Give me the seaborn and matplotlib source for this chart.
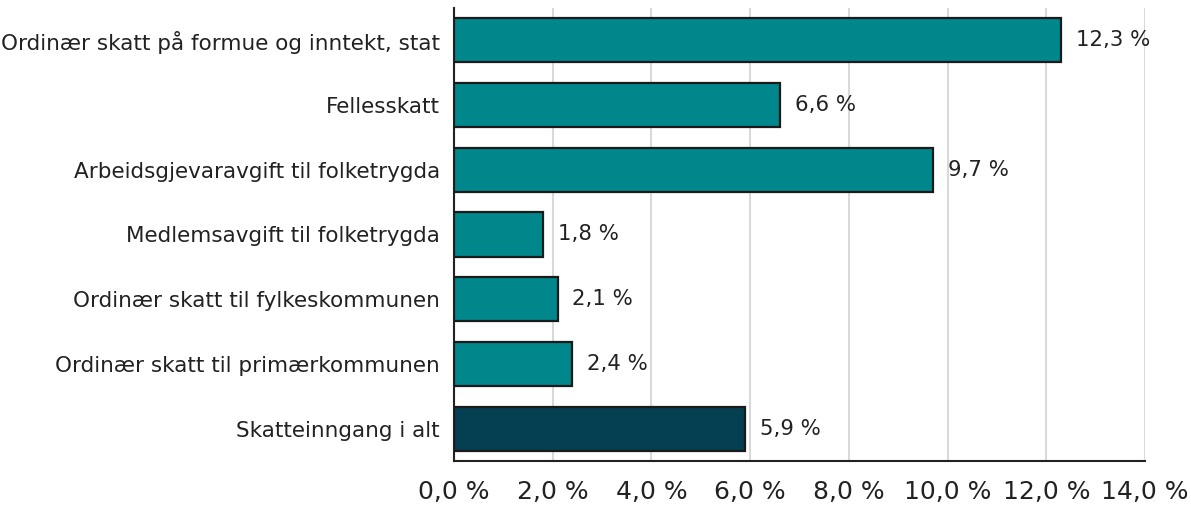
import matplotlib
matplotlib.use("Agg")
import matplotlib.pyplot as plt
import seaborn as sns
import pandas as pd

categories = [
    "Ordinær skatt på formue og inntekt, stat",
    "Fellesskatt",
    "Arbeidsgjevaravgift til folketrygda",
    "Medlemsavgift til folketrygda",
    "Ordinær skatt til fylkeskommunen",
    "Ordinær skatt til primærkommunen",
    "Skatteinngang i alt",
]
values = [12.3, 6.6, 9.7, 1.8, 2.1, 2.4, 5.9]
colors = ["#00878C"] * 6 + ["#043F52"]
xticks = [0, 2, 4, 6, 8, 10, 12, 14]

df = pd.DataFrame({"cat": categories, "val": values})

sns.set_theme(style="white")
plt.rcParams["font.family"] = ["DejaVu Sans"]

fig = plt.figure(figsize=(11.91, 5.09), dpi=100)
ax = fig.add_axes([454 / 1191, 1 - 461 / 509, (1145 - 454) / 1191, (461 - 8) / 509])

sns.barplot(data=df, y="cat", x="val", hue="cat", palette=colors, legend=False,
            saturation=1, orient="h", width=0.68, edgecolor="#1a1a1a", linewidth=1.6,
            ax=ax, zorder=3)

ax.set_xlim(0, 14)
ax.set_ylim(6.5, -0.5)
ax.set_xticks(xticks)
ax.set_xticklabels([f"{t:.1f}".replace(".", ",") + " %" for t in xticks], fontsize=18, color="#222222")
ax.tick_params(axis="y", labelsize=15.5, length=0, pad=10, labelcolor="#222222")
ax.tick_params(axis="x", length=0, pad=14)
ax.set_xlabel("")
ax.set_ylabel("")
ax.grid(axis="x", color="#d9d9d9", linewidth=1.5, zorder=0)
ax.set_axisbelow(True)
for s in ["top", "right"]:
    ax.spines[s].set_visible(False)
for s in ["left", "bottom"]:
    ax.spines[s].set_color("#222222")
    ax.spines[s].set_linewidth(1.5)

for i, v in enumerate(values):
    ax.text(v + 0.3, i, f"{v:.1f}".replace(".", ",") + " %", va="center", ha="left",
            fontsize=15.3, color="#222222")

fig.savefig("out.png", dpi=100)
